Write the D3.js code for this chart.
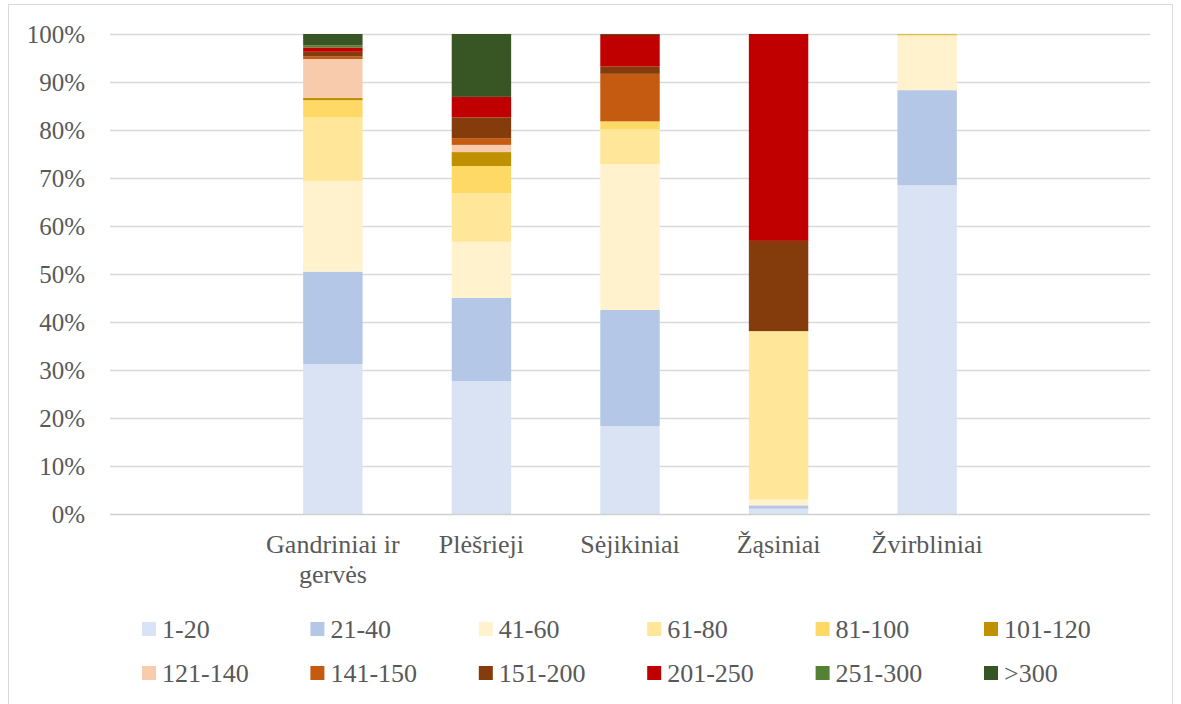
<!DOCTYPE html>
<html>
<head>
<meta charset="utf-8">
<script src="https://cdn.jsdelivr.net/npm/d3@7"></script>
<style>
  html, body { margin: 0; padding: 0; background: #fff; }
  svg { display: block; font-family: "Liberation Serif", "Times New Roman", serif; }
</style>
</head>
<body>
<svg id="chart" width="1181" height="704"></svg>
<script>
// Size classes (stacked series, bottom to top)
const bins = ["1-20", "21-40", "41-60", "61-80", "81-100", "101-120",
              "121-140", "141-150", "151-200", "201-250", "251-300", ">300"];
const binColors = ["#DAE3F3", "#B4C7E7", "#FFF2CC", "#FFE699", "#FFD966", "#BF9000",
                   "#F8CBAD", "#C55A11", "#843C0C", "#C00000", "#548235", "#375623"];

// Category slots along the x axis (first and last slots are empty)
const categories = ["", "Gandriniai ir gervės", "Plėšrieji", "Sėjikiniai", "Žąsiniai", "Žvirbliniai", ""];

// Share (%) of each size class, in the order of `bins`
const gandriniai  = [31.2, 19.3, 18.9, 13.2, 3.6, 0.5, 8.1, 0.5, 1.0, 0.9, 0.4, 2.4];
const plesrieji   = [27.7, 17.3, 11.7, 10.1, 5.7, 2.9, 1.5, 1.4, 4.3, 4.3, 0, 13.1];
const sejikiniai  = [18.3, 24.2, 30.4, 7.2, 1.7, 0, 0, 9.9, 1.5, 6.6, 0, 0.2];
const zasiniai    = [1.1, 0.7, 1.2, 35.1, 0, 0, 0, 0, 18.8, 43.1, 0, 0];
const zvirbliniai = [68.5, 19.8, 11.2, 0.4, 0, 0.1, 0, 0, 0, 0, 0, 0];
const emptySlot   = bins.map(() => 0);

const categoryValues = [emptySlot, gandriniai, plesrieji, sejikiniai, zasiniai, zvirbliniai, emptySlot];

const yTicks = [0, 10, 20, 30, 40, 50, 60, 70, 80, 90, 100];

// Rows for the stack layout
const rows = categories.map((name, i) => {
  const row = { idx: i, name };
  bins.forEach((b, j) => { row[b] = categoryValues[i][j]; });
  return row;
});

const svg = d3.select("#chart");

// Outer frame (bottom edge runs past the canvas)
svg.append("rect")
  .attr("x", 8.5).attr("y", 4.5)
  .attr("width", 1164).attr("height", 710)
  .attr("fill", "#fff").attr("stroke", "#D9D9D9").attr("stroke-width", 1);

const plot = { left: 110, right: 1150, top: 34, bottom: 514 };

const x = d3.scaleBand()
  .domain(rows.map(d => d.idx))
  .range([plot.left, plot.right])
  .paddingInner(0.6).paddingOuter(0.3);

const y = d3.scaleLinear().domain([0, 100]).range([plot.bottom, plot.top]);

// Gridlines
svg.append("g")
  .selectAll("line")
  .data(yTicks.filter(t => t > 0))
  .join("line")
  .attr("x1", plot.left).attr("x2", plot.right)
  .attr("y1", d => Math.round(y(d)) + 0.5).attr("y2", d => Math.round(y(d)) + 0.5)
  .attr("stroke", "#D9D9D9").attr("stroke-width", 1.5);

// Stacked bars
const stack = d3.stack().keys(bins);
const layers = stack(rows);

svg.append("g")
  .selectAll("g")
  .data(layers)
  .join("g")
  .attr("fill", (d, i) => binColors[i])
  .selectAll("rect")
  .data(d => d.filter(s => s[1] - s[0] > 0))
  .join("rect")
  .attr("x", d => x(d.data.idx))
  .attr("width", x.bandwidth())
  .attr("y", d => y(d[1]))
  .attr("height", d => y(d[0]) - y(d[1]));

// Category axis line
svg.append("line")
  .attr("x1", plot.left).attr("x2", plot.right)
  .attr("y1", plot.bottom + 0.5).attr("y2", plot.bottom + 0.5)
  .attr("stroke", "#D0D0D0").attr("stroke-width", 1.5);

// Y axis labels
const yAxis = d3.axisLeft(y)
  .tickValues(yTicks)
  .tickFormat(d => d + "%")
  .tickSize(0).tickPadding(0);

const yG = svg.append("g")
  .attr("transform", `translate(${85},0)`)
  .call(yAxis);
yG.select(".domain").remove();
yG.selectAll("text")
  .attr("fill", "#595959")
  .style("font-family", "'Liberation Serif', 'Times New Roman', serif")
  .style("font-size", "25px");

// X axis labels (wrapped within the band)
const xAxis = d3.axisBottom(x)
  .tickFormat(i => categories[i])
  .tickSize(0).tickPadding(0);

const xG = svg.append("g")
  .attr("transform", `translate(0,${plot.bottom})`)
  .call(xAxis);
xG.select(".domain").remove();
xG.selectAll("text")
  .attr("fill", "#595959")
  .attr("y", 39).attr("dy", 0)
  .style("font-family", "'Liberation Serif', 'Times New Roman', serif")
  .style("font-size", "26px")
  .each(function () {
    const t = d3.select(this);
    const words = t.text().split(/\s+/).filter(Boolean);
    if (!words.length) return;
    const maxW = x.step() - 2;
    t.text(null);
    let line = [];
    let lineNo = 0;
    let tspan = t.append("tspan").attr("x", 0).attr("y", 39);
    words.forEach(w => {
      line.push(w);
      tspan.text(line.join(" "));
      if (tspan.node().getComputedTextLength() > maxW && line.length > 1) {
        line.pop();
        tspan.text(line.join(" "));
        line = [w];
        lineNo += 1;
        tspan = t.append("tspan").attr("x", 0).attr("y", 39 + lineNo * 30).text(w);
      }
    });
  });

// Legend: two rows of six
const legendX0 = 142, legendDX = 168.4;
const legendY = [622, 666];
const legend = svg.append("g");
bins.forEach((b, i) => {
  const col = i % 6, row = Math.floor(i / 6);
  const gx = legendX0 + col * legendDX, gy = legendY[row];
  legend.append("rect")
    .attr("x", gx).attr("y", gy)
    .attr("width", 14).attr("height", 14)
    .attr("fill", binColors[i]);
  legend.append("text")
    .attr("x", gx + 20).attr("y", gy + 15.5)
    .attr("fill", "#595959")
    .style("font-size", "26px")
    .text(b);
});
</script>
</body>
</html>
